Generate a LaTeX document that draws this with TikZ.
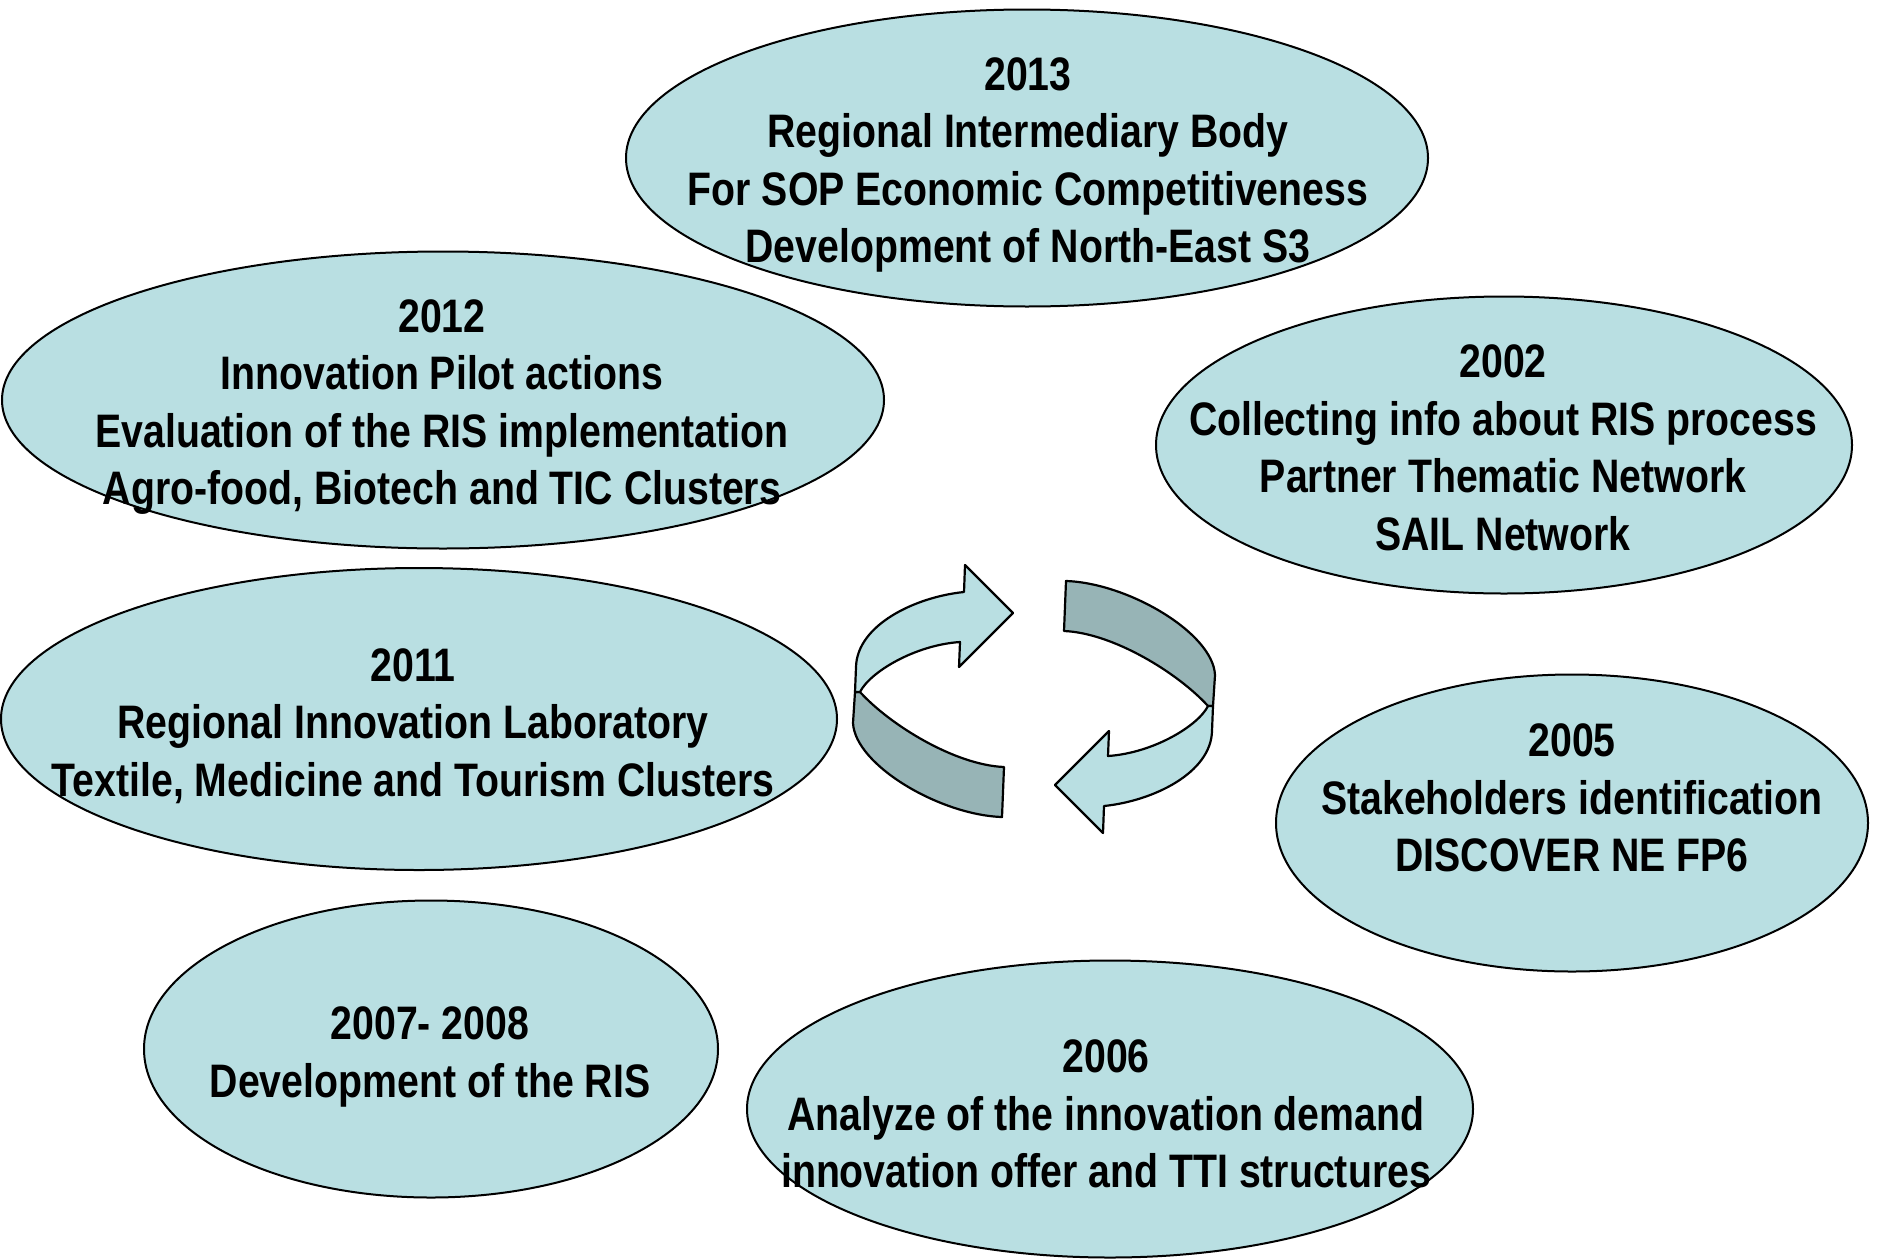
\documentclass[tikz,border=0pt]{standalone}
\usepackage{fontspec}
\newfontfamily\balonYazi{Liberation Sans}[FakeStretch=0.835]
\usepackage{tikz}
\usetikzlibrary{shapes.geometric}
\definecolor{balonMavi}{HTML}{B9DFE2}
\definecolor{okKoyu}{HTML}{97B4B6}

\begin{document}
\begin{tikzpicture}[x=1pt,y=-1pt,
  balon/.style={ellipse,draw=black,line width=2pt,fill=balonMavi,inner sep=0pt},
  yazi/.style={font={\balonYazi\bfseries\fontsize{47}{57.5}\selectfont},align=center,inner sep=0pt},
  okcizgi/.style={draw=black,line width=2.2pt,line join=round}]
\useasboundingbox (0,0) rectangle (1878,1258);
% balonlar
\node[balon,minimum width=802pt,minimum height=297pt] (b2013) at (1027,158) {};
\node[balon,minimum width=882pt,minimum height=297pt] (b2012) at (443,400) {};
\node[balon,minimum width=696pt,minimum height=297pt] (b2002) at (1504,445) {};
\node[balon,minimum width=836pt,minimum height=302pt] (b2011) at (419,719) {};
\node[balon,minimum width=592pt,minimum height=297pt] (b2005) at (1572,823) {};
\node[balon,minimum width=574pt,minimum height=297pt] (b2007) at (431,1049) {};
\node[balon,minimum width=726pt,minimum height=297pt] (b2006) at (1110,1109) {};
% yazilar
\node[yazi] (t2013) at (1028,165) {2013\\Regional Intermediary Body\\For SOP Economic Competitiveness\\Development of North-East S3};
\node[yazi] (t2012) at (442,407) {2012\\Innovation Pilot actions\\Evaluation of the RIS implementation\\Agro-food, Biotech and TIC Clusters};
\node[yazi] (t2002) at (1503,448) {2002\\Collecting info about RIS process\\Partner Thematic Network\\SAIL Network};
\node[yazi] (t2011) at (413,726) {2011\\Regional Innovation Laboratory\\Textile, Medicine and Tourism Clusters};
\node[yazi] (t2005) at (1572,798) {2005\\Stakeholders identification\\DISCOVER NE FP6};
\node[yazi] (t2007) at (430,1057) {2007- 2008\\Development of the RIS};
\node[yazi] (t2006) at (1106,1114) {2006\\Analyze of the innovation demand\\innovation offer and TTI structures};
% ortadaki donen oklar
\coordinate (merkez) at (1034,699);
\foreach \aci in {0,180}{
\begin{scope}[rotate around={\aci:(merkez)}]
  \path[okcizgi,fill=okKoyu] (855,692) -- (853,723)
    .. controls (855,765) and (940,815) .. (1002,817) -- (1004,767)
    .. controls (955,765) and (890,725) .. (860,692) -- cycle;
  \path[okcizgi,fill=balonMavi] (964,592)
    .. controls (915,597) and (857,625) .. (856,667) -- (855,692) -- (860,692)
    .. controls (870,672) and (915,645) .. (960,642)
    -- (959,667) -- (1013,613) -- (965,565) -- cycle;
\end{scope}}
\end{tikzpicture}
\end{document}
